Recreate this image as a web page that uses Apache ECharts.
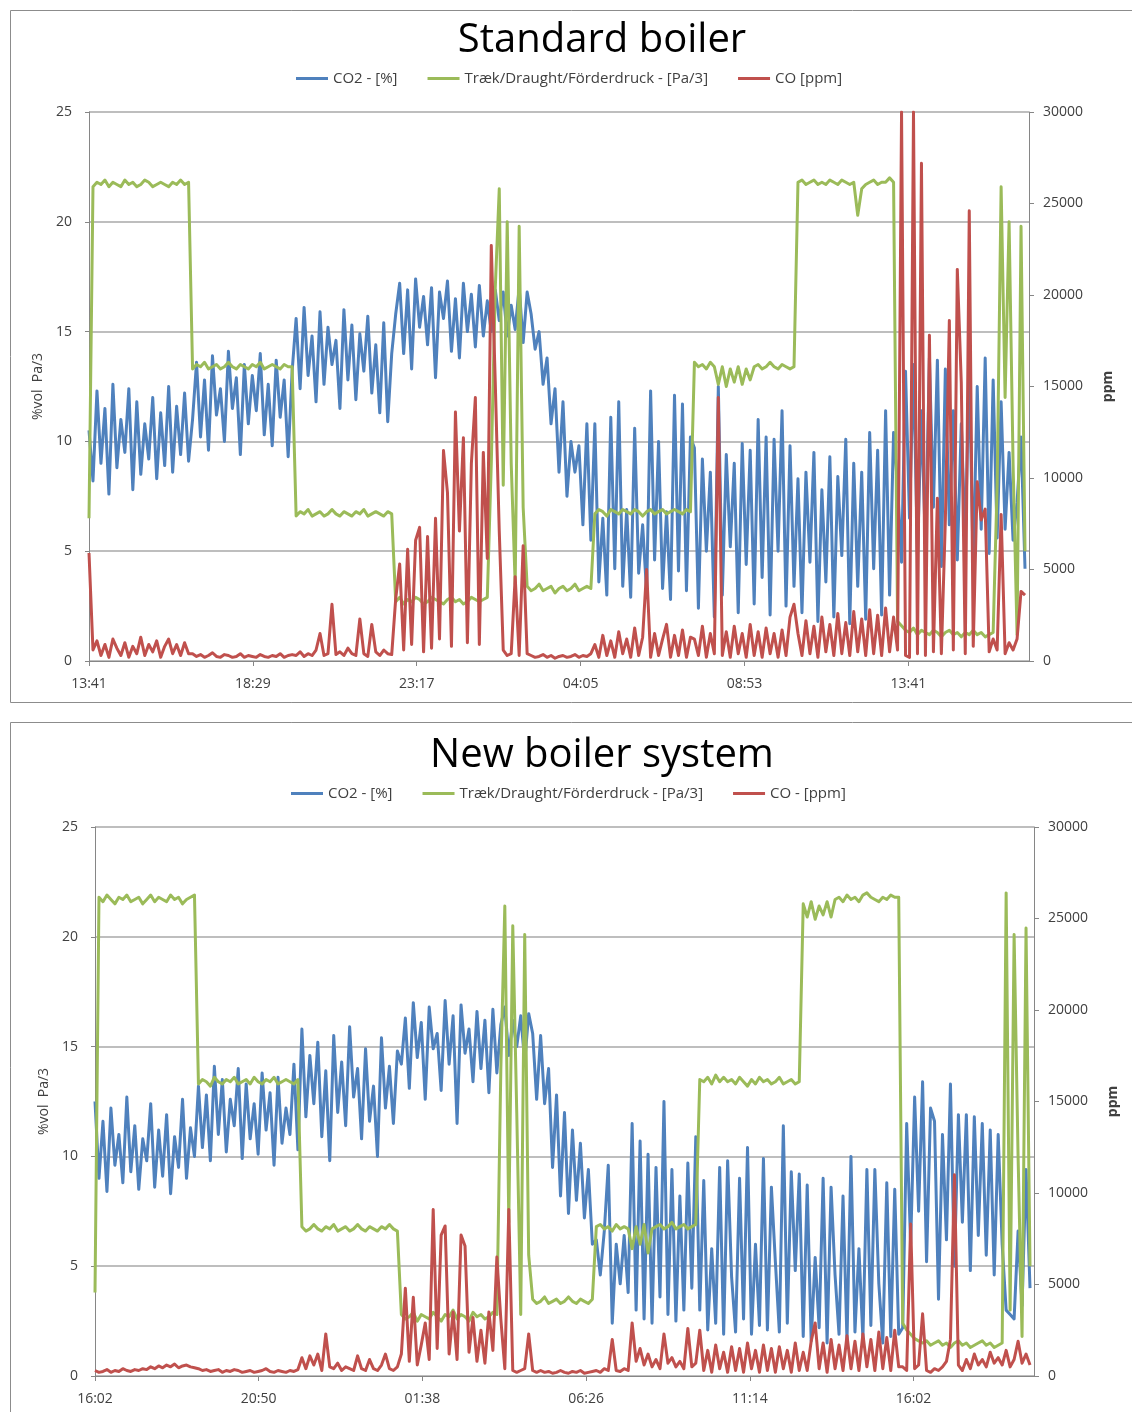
<!DOCTYPE html>
<html><head><meta charset="utf-8">
<script src="https://cdn.jsdelivr.net/npm/echarts@6/dist/echarts.min.js"></script>
<style>html,body{margin:0;padding:0;background:#fff}#c{width:1132px;height:1412px}</style>
</head><body><div id="c"></div>
<script>
// ---- sampling / axes ----
const STEP = 7;          // minutes between samples
const X_MAX = 1652;      // minutes shown
const X_INTERVAL = 288;  // 4h48m between time labels
const xLabelsTop = ['13:41','18:29','23:17','04:05','08:53','13:41'];
const xLabelsBot = ['16:02','20:50','01:38','06:26','11:14','16:02'];
const namesTop = ['CO2 - [%]','Træk/Draught/Förderdruck - [Pa/3]','CO [ppm]'];
const namesBot = ['CO2 - [%]','Træk/Draught/Förderdruck - [Pa/3]','CO - [ppm]'];
const titles = ['Standard boiler','New boiler system'];

// ---- Standard boiler ----
const topCO2 = [10.5,8.2,12.3,9.0,11.5,7.6,12.6,8.8,11.0,9.5,12.4,7.8,11.8,8.5,10.8,9.2,12.0,8.3,11.3,8.9,12.5,8.6,11.6,9.4,12.2,9.1,
11.0,13.6,10.2,12.8,9.6,13.9,11.2,12.4,10.0,14.1,11.5,12.9,9.4,13.5,10.8,13.0,11.4,14.0,10.3,12.6,9.8,13.7,11.1,12.8,9.3,13.2,
15.6,12.4,16.1,13.0,14.8,11.8,15.9,12.6,15.2,13.5,14.6,11.5,16.0,12.8,15.3,11.9,14.9,13.2,15.7,12.2,14.4,11.3,15.4,10.9,14.0,
15.8,17.2,14.0,16.9,13.3,17.4,15.2,16.6,14.4,17.0,12.9,16.8,15.6,17.3,14.1,16.5,13.8,17.2,15.0,16.7,14.3,17.1,14.8,16.4,15.0,16.9,
15.5,16.8,14.8,16.2,15.1,17.0,14.5,16.8,
15.8,14.2,15.0,12.6,13.8,10.8,12.4,8.6,11.8,7.5,10.0,8.6,9.8,6.2,10.8,5.5,
10.8,3.6,6.5,3.0,11.1,4.2,11.8,3.4,6.9,2.9,10.6,4.0,6.2,3.1,12.3,4.6,10.0,3.3,6.8,2.8,12.1,4.1,11.7,3.2,10.2,
9.7,2.4,9.2,5.0,8.6,2.0,12.5,3.0,9.4,5.2,9.0,2.2,9.9,4.4,9.6,2.6,11.0,3.8,10.2,2.1,10.1,5.0,11.4,2.5,9.8,3.4,
8.3,2.2,8.6,4.5,9.5,1.8,7.8,3.6,9.3,2.0,8.4,4.8,10.1,1.7,9.0,3.4,8.6,1.9,10.4,4.2,9.6,2.1,11.4,3.0,10.4,
8.0,4.5,13.2,6.5,13.5,4.8,11.4,5.2,13.8,7.0,13.7,4.3,13.3,6.2,11.4,4.6,10.8,5.5,13.3,4.2,12.5,6.0,13.8,4.9,12.8,5.6,
11.8,6.0,9.5,5.5,7.2,10.2,4.2];
const topDraught = [6.5,
21.6,21.8,21.7,21.9,21.6,21.8,21.7,21.6,21.9,21.7,21.8,21.6,21.7,21.9,21.8,21.6,21.7,21.8,21.7,21.6,21.8,21.7,21.9,21.7,21.8,
13.3,13.5,13.4,13.6,13.3,13.4,13.5,13.3,13.4,13.6,13.4,13.3,13.5,13.4,13.3,13.5,13.4,13.6,13.3,13.4,13.5,13.4,13.3,13.5,13.4,13.4,
6.6,6.8,6.7,6.9,6.6,6.7,6.8,6.6,6.7,6.9,6.7,6.6,6.8,6.7,6.6,6.8,6.7,6.9,6.6,6.7,6.8,6.7,6.6,6.8,6.7,
2.7,2.9,2.6,2.8,2.7,2.9,2.8,2.6,2.7,2.9,2.8,2.7,2.6,2.8,2.9,2.7,2.8,2.6,2.7,2.9,2.8,2.7,2.8,2.9,
9,17,21.5,8,20,9,3.5,19.8,7,
3.4,3.2,3.3,3.5,3.2,3.3,3.4,3.1,3.3,3.4,3.2,3.3,3.5,3.2,3.3,3.4,3.3,
6.7,6.9,6.8,6.6,6.9,6.8,6.7,6.9,6.8,6.7,6.9,6.8,6.6,6.8,6.9,6.7,6.8,6.9,6.7,6.8,6.9,6.8,6.7,6.9,6.8,
13.6,13.4,13.5,13.3,13.6,13.4,12.6,13.4,12.5,13.3,12.7,13.4,12.6,13.3,12.8,13.4,13.5,13.3,13.4,13.6,13.4,13.3,13.5,13.4,13.3,13.4,
21.8,21.9,21.7,21.8,21.9,21.7,21.8,21.7,21.9,21.8,21.7,21.9,21.8,21.7,21.8,20.3,21.5,21.7,21.8,21.9,21.7,21.8,21.8,22.0,21.8,
1.8,1.6,1.4,1.3,1.5,1.2,1.4,1.3,1.2,1.4,1.3,1.1,1.3,1.4,1.2,1.3,1.1,1.3,1.2,1.4,1.2,1.3,1.1,1.2,1.3,
8,21.6,12,20,9,1.2,19.8,5];
const topCO = [5900,
600,1100,300,900,200,1200,700,300,1000,200,800,400,1300,300,900,500,1100,200,800,1200,400,900,300,1000,400,
400,250,350,200,300,450,250,200,350,300,200,250,400,200,300,250,200,350,250,200,300,250,400,200,300,350,
300,500,250,400,300,600,1500,300,400,3100,350,500,300,700,400,300,2300,400,250,2000,500,300,600,400,350,
3400,5300,600,6100,900,6600,7300,500,6800,700,7800,1200,11500,9200,800,13600,7100,12200,1000,10800,14400,900,11400,5600,22700,
15200,7100,600,300,400,4600,300,6300,400,
300,200,250,350,200,300,150,250,300,200,250,350,200,300,250,400,
900,200,1400,300,1100,200,1600,400,1200,200,1800,300,1300,5000,200,1500,300,1200,2000,200,1400,300,1700,200,1300,
1200,300,1900,200,1500,400,14400,300,1600,200,1900,400,1500,200,2000,300,1600,200,1800,400,1500,200,1700,300,2400,3100,
1500,300,2200,400,1900,200,2400,500,2000,300,2600,400,2100,300,2700,500,2300,300,2800,400,2500,300,2900,500,2400,
600,30000,300,200,30000,400,27200,300,17800,500,8900,400,7700,18600,600,21400,15200,400,24600,800,9800,7700,8300,500,1200,600,8000,400,1000,600,1200,3800,3600];

// ---- New boiler system ----
const botCO2 = [12.5,9.0,11.6,8.4,12.2,9.6,11.0,8.8,12.7,9.3,11.4,8.5,10.8,9.8,12.4,8.6,11.2,9.1,11.9,8.3,10.9,9.5,12.6,9.0,11.3,10.0,
13.2,10.4,12.8,9.8,14.1,11.0,13.5,10.2,12.6,11.4,14.0,9.9,13.3,10.8,12.4,10.1,13.8,11.2,12.9,9.6,13.6,10.6,12.2,11.0,14.2,10.3,
15.8,11.8,14.6,12.4,15.2,10.9,13.9,9.8,15.5,12.0,14.3,11.4,15.9,12.7,14.0,10.8,14.9,11.6,13.2,10.0,15.4,12.2,14.1,11.5,14.8,
14.2,16.3,13.1,17.0,14.5,16.1,12.6,16.8,14.9,15.6,13.0,17.1,14.2,16.4,11.5,16.9,14.7,15.8,13.4,16.6,14.0,16.2,12.9,16.7,13.8,16.0,
16.8,14.6,16.2,15.0,16.4,14.3,16.5,15.6,12.6,
15.5,12.4,14.0,9.5,12.8,8.2,12.0,7.4,11.2,8.0,10.6,7.2,9.4,6.0,
6.2,4.6,6.6,9.6,2.4,6.0,4.2,6.4,3.8,11.5,3.0,10.7,2.6,10.1,2.4,9.5,3.6,12.5,2.8,9.4,2.5,8.2,3.0,9.7,4.0,10.9,
3.0,8.9,2.1,5.8,2.4,9.5,1.9,9.8,4.5,2.0,9.0,2.6,10.4,1.9,6.0,2.3,9.9,2.1,8.6,5.2,2.0,11.4,2.4,9.3,4.8,9.2,
1.8,8.7,1.6,5.4,2.2,9.0,1.5,8.6,4.6,1.9,8.2,1.6,10.0,2.0,5.8,1.7,9.4,2.3,9.4,4.2,1.5,8.8,1.8,8.5,1.9,
2.2,11.5,6.0,12.7,7.5,13.4,5.2,12.2,11.6,3.5,11.0,6.2,13.3,5.0,11.9,7.0,11.9,4.8,11.8,6.4,11.5,5.5,11.2,4.6,11.0,
6.0,3.0,2.8,2.6,6.6,3.2,9.4,4.0];
const botDraught = [3.8,
21.8,21.6,21.9,21.7,21.5,21.8,21.7,21.9,21.6,21.7,21.8,21.5,21.7,21.9,21.6,21.8,21.7,21.6,21.9,21.7,21.8,21.5,21.7,21.8,21.9,
13.3,13.5,13.4,13.2,13.6,13.4,13.3,13.5,13.4,13.6,13.3,13.4,13.5,13.3,13.6,13.4,13.3,13.5,13.4,13.6,13.3,13.4,13.5,13.4,13.3,13.5,
6.8,6.6,6.7,6.9,6.7,6.6,6.8,6.7,6.9,6.6,6.7,6.8,6.6,6.7,6.9,6.7,6.6,6.8,6.7,6.6,6.8,6.7,6.9,6.7,6.6,
2.8,2.6,2.7,2.9,2.5,2.8,2.7,2.6,2.9,2.7,2.5,2.8,2.7,3.0,2.6,2.8,2.7,2.5,2.9,2.7,2.8,2.6,2.7,2.9,2.8,
14,21.4,7,20.5,12,2.8,20.1,5.5,
3.5,3.3,3.4,3.6,3.3,3.4,3.5,3.3,3.4,3.6,3.4,3.3,3.5,3.4,3.3,3.5,
6.8,6.9,6.7,6.8,6.6,6.9,6.7,6.8,6.7,5.8,6.8,6.0,6.9,5.6,6.7,6.8,6.9,6.7,6.8,7.0,6.7,6.8,6.9,6.7,6.8,6.9,
13.5,13.4,13.6,13.3,13.7,13.4,13.6,13.4,13.5,13.3,13.6,13.4,13.2,13.5,13.3,13.6,13.4,13.5,13.3,13.4,13.6,13.3,13.4,13.5,13.3,13.4,
21.5,20.9,21.6,20.8,21.4,21.0,21.6,20.9,21.7,21.8,21.6,21.9,21.7,21.8,21.6,21.9,22.0,21.8,21.7,21.6,21.8,21.7,21.9,21.8,21.8,
2.4,2.1,1.9,1.7,1.6,1.5,1.6,1.4,1.5,1.6,1.4,1.5,1.3,1.5,1.6,1.4,1.5,1.3,1.4,1.5,1.6,1.4,1.5,1.3,1.4,
1.5,22.0,3.0,20.1,10,1.8,20.4,5];
const botCO = [300,200,250,350,200,300,250,400,300,250,350,300,400,350,500,400,550,450,600,500,650,450,550,600,500,450,
400,300,350,250,300,350,200,300,250,350,300,200,250,300,200,250,300,400,250,200,300,250,200,300,250,350,
1000,400,1100,600,1200,300,2300,500,400,700,300,500,400,300,1100,400,300,900,400,300,600,1200,400,300,500,
1200,4800,800,4300,600,1700,2900,900,9100,1500,7700,8200,1200,3500,900,7700,7100,1300,3200,800,2500,700,3500,1400,6500,3100,
400,9100,300,200,300,400,2300,300,200,300,
200,250,150,200,300,200,150,250,200,300,150,200,250,
300,200,400,300,2000,300,250,400,300,2900,800,1500,600,1200,500,900,400,2300,700,1000,500,800,400,2600,500,700,
2500,300,1400,200,1700,400,1300,200,1600,300,1500,200,1800,400,1400,200,1700,300,1500,200,1600,400,1400,200,1800,300,
1300,300,1900,2900,400,1800,200,2000,400,1700,300,2200,400,1900,300,2300,500,2000,300,2400,400,2100,300,2500,500,
500,300,8300,400,600,3400,300,200,400,300,500,800,2000,11000,600,300,900,400,1200,600,900,500,1300,700,1000,600,1400,500,900,1900,700,1200,600];

const COLORS = ['#4f81bd','#9bbb59','#c0504d'];
const FONT = 'Open Sans';
const TXT = '#404040';

function mk(arr){ return arr.map((v,i)=>[i*STEP, v]); }

const grids = [
  {left:89, top:112, width:940, height:549},
  {left:95, top:827, width:939, height:549}
];

function xAxis(gi, labels){
  return {type:'value', gridIndex:gi, min:0, max:X_MAX, interval:X_INTERVAL,
    axisLine:{lineStyle:{color:'#868686'}},
    axisTick:{show:true, length:5, lineStyle:{color:'#868686'}},
    axisLabel:{color:TXT, fontSize:14, fontFamily:FONT, margin:16, showMaxLabel:false,
      formatter:v=>{const k=Math.round(v/X_INTERVAL); return (Math.abs(v-k*X_INTERVAL)<1 && labels[k])?labels[k]:'';}},
    splitLine:{show:false}};
}
function yLeft(gi){
  return {type:'value', gridIndex:gi, min:0, max:25, interval:5, position:'left',
    name:'%vol  Pa/3', nameLocation:'middle', nameRotate:90, nameGap:44,
    nameTextStyle:{color:TXT, fontSize:14, fontFamily:FONT},
    axisLine:{show:true, lineStyle:{color:'#868686'}},
    axisTick:{show:true, length:4, lineStyle:{color:'#868686'}},
    axisLabel:{color:TXT, fontSize:14, fontFamily:FONT, margin:17},
    splitLine:{show:true, lineStyle:{color:'#a8a8a8', width:1.5}}};
}
function yRight(gi){
  return {type:'value', gridIndex:gi, min:0, max:30000, interval:5000, position:'right',
    name:'ppm', nameLocation:'middle', nameRotate:90, nameGap:72,
    nameTextStyle:{color:TXT, fontSize:14, fontFamily:FONT, fontWeight:'bold'},
    axisLine:{show:true, lineStyle:{color:'#868686'}},
    axisTick:{show:true, length:5, lineStyle:{color:'#868686'}},
    axisLabel:{color:TXT, fontSize:14, fontFamily:FONT, margin:14, formatter:v=>String(v)},
    splitLine:{show:false}};
}
function line(name, gi, yi, arr, color){
  return {type:'line', name, xAxisIndex:gi, yAxisIndex:yi, data:mk(arr), showSymbol:false,
    symbol:'none', sampling:null, animation:false, clip:true,
    lineStyle:{width:3, color, join:'round'}, itemStyle:{color}};
}
function legend(top, left, names){
  return {top, left, icon:'rect', itemWidth:32, itemHeight:3, itemGap:30,
    textStyle:{color:TXT, fontSize:15, fontFamily:FONT}, data:names, selectedMode:false};
}

const chart = echarts.init(document.getElementById('c'), null, {renderer:'canvas'});
chart.setOption({
  backgroundColor:'#fff',
  animation:false,
  title:[
    {text:titles[0], left:597, top:16, textAlign:'center', textStyle:{fontSize:40, fontWeight:'normal', color:'#000', fontFamily:FONT}},
    {text:titles[1], left:597, top:731, textAlign:'center', textStyle:{fontSize:40, fontWeight:'normal', color:'#000', fontFamily:FONT}}
  ],
  legend:[legend(66, 291, namesTop), legend(781, 286, namesBot)],
  graphic:[
    {type:'rect', shape:{x:10.5, y:10.5, width:1140, height:692}, style:{fill:null, stroke:'#8c8c8c', lineWidth:1}, silent:true, z:-1},
    {type:'rect', shape:{x:10.5, y:722.5, width:1140, height:720}, style:{fill:null, stroke:'#8c8c8c', lineWidth:1}, silent:true, z:-1}
  ],
  grid:grids,
  xAxis:[xAxis(0, xLabelsTop), xAxis(1, xLabelsBot)],
  yAxis:[yLeft(0), yRight(0), yLeft(1), yRight(1)],
  series:[
    line(namesTop[0],0,0,topCO2,COLORS[0]),
    line(namesTop[1],0,0,topDraught,COLORS[1]),
    line(namesTop[2],0,1,topCO,COLORS[2]),
    line(namesBot[0],1,2,botCO2,COLORS[0]),
    line(namesBot[1],1,2,botDraught,COLORS[1]),
    line(namesBot[2],1,3,botCO,COLORS[2])
  ]
});
</script></body></html>
